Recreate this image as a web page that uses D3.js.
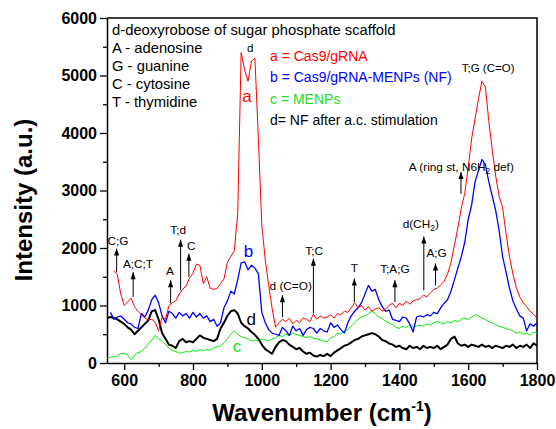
<!DOCTYPE html>
<html>
<head>
<meta charset="utf-8">
<script src="https://cdn.jsdelivr.net/npm/d3@7/dist/d3.min.js"></script>
<style>
  body { margin: 0; background: #fff; }
  svg { font-family: "Liberation Sans", Arial, sans-serif; }
</style>
</head>
<body>
<svg id="chart" width="556" height="429"></svg>
<script>
// wavenumber grid (cm-1), one reading every 10 cm-1
var wavenumbers = d3.range(550, 1801, 10);

// a = Cas9/gRNA
var seriesA = [
  null, null, 1600, 1540, 1200, 1000, 1060, 1130, 980, 900,
  840, 780, 750, 760, 710, 560, 800, 760, 1000, 1050,
  1080, 1200, 1280, 1340, 1480, 1560, 1720, 1700, 1380, 1500,
  1300, 1280, 1300, 1380, 1460, 1750, 1850, 1950, 2600, 5400,
  5100, 4900, 5250, 5300, 3900, 2400, 1800, 1350, 950, 620,
  700, 760, 720, 780, 680, 740, 700, 780, 760, 720,
  850, 760, 820, 780, 800, 840, 780, 860, 840, 900,
  880, 960, 1050, 960, 1000, 920, 980, 900, 940, 960,
  900, 940, 1000, 1040, 960, 1040, 1000, 1080, 1020, 1080,
  1100, 1120, 1180, 1150, 1220, 1280, 1300, 1360, 1420, 1550,
  1750, 2050, 2350, 2700, 2950, 3400, 3900, 4250, 4600, 4900,
  4800, 4200, 3700, 3250, 2900, 2700, 2250, 1850, 1550, 1300,
  1150, 1050, 980, 900, 850, 780
];
// b = Cas9/gRNA-MENPs (NF)
var seriesB = [
  null, 880, 760, 800, 820, 760, 700, 680, 620, 600,
  860, 800, 920, 1100, 1180, 1050, 820, 700, 900, 860,
  780, 880, 820, 860, 780, 880, 800, 860, 780, 820,
  720, 760, 640, 700, 960, 1080, 1250, 1200, 1450, 1740,
  1760, 1620, 1700, 1650, 1550, 880, 700, 580, 520, 500,
  480, 620, 560, 480, 640, 560, 600, 480, 580, 620,
  600, 520, 600, 560, 540, 700, 620, 660, 580, 520,
  700, 820, 900, 960, 1050, 1200, 1350, 1250, 1280, 1100,
  980, 900, 920, 760, 740, 720, 800, 780, 680, 540,
  800, 820, 800, 840, 820, 880, 860, 960, 1040, 1100,
  1250, 1450, 1650, 1850, 2100, 2500, 2750, 3150, 3350, 3540,
  3450, 3150, 2900, 2650, 2300, 1850, 1580, 1300, 1080, 940,
  820, 780, 560, 680, 640, 700
];
// c = MENPs
var seriesC = [
  80, 100, 110, 120, 160, 170, 140, 60, 140, 180,
  200, 260, 330, 400, 480, 420, 380, 330, 260, 220,
  200, 170, 180, 200, 190, 220, 200, 230, 210, 240,
  220, 260, 280, 300, 350, 420, 500, 560, 500, 460,
  440, 420, 380, 400, 380, 420, 400, 380, 420, 440,
  480, 460, 500, 480, 520, 500, 480, 460, 440, 460,
  430, 420, 400, 380, 370, 440, 460, 520, 500, 560,
  580, 640, 700, 760, 800, 820, 860, 900, 860, 800,
  780, 720, 700, 660, 620, 600, 640, 620, 660, 620,
  640, 660, 640, 680, 660, 700, 720, 700, 680, 720,
  700, 740, 720, 760, 780, 760, 800, 840, 820, 780,
  760, 720, 700, 660, 640, 620, 600, 580, 560, 520,
  540, 500, 520, 480, 540, 520
];
// d = NF after a.c. stimulation
var seriesD = [
  780, 800, 780, 760, 720, 680, 620, 580, 500, 560,
  620, 680, 740, 900, 920, 760, 520, 420, 320, 300,
  260, 380, 420, 360, 380, 360, 420, 480, 440, 420,
  400, 380, 420, 600, 700, 820, 900, 920, 860, 700,
  640, 600, 540, 490, 420, 320, 240, 200, 160, 280,
  360, 400, 380, 320, 280, 240, 260, 200, 160, 180,
  130, 110, 140, 120, 160, 120, 180, 220, 260, 300,
  320, 360, 400, 420, 460, 480, 500, 520, 500, 460,
  400, 380, 340, 320, 280, 300, 260, 240, 300, 260,
  280, 240, 300, 260, 280, 260, 300, 240, 280, 320,
  420, 460, 340, 300, 320, 280, 320, 300, 280, 320,
  280, 300, 260, 300, 280, 260, 300, 280, 320, 260,
  300, 280, 320, 260, 340, 300
];

var xTickLabels = [600, 800, 1000, 1200, 1400, 1600, 1800];
var xMinorTicks = [700, 900, 1100, 1300, 1500, 1700];
var yTickLabels = [0, 1000, 2000, 3000, 4000, 5000, 6000];
var yMinorTicks = [500, 1500, 2500, 3500, 4500, 5500];

// band assignments (arrow wavenumber, arrow tip/tail intensity, label spot)
var bandLabels = ["C;G", "A;C;T", "A", "T;d", "C", "d (C=O)", "T;C", "T", "T;A;G", "d(CH_2)", "A;G", "A (ring st, N6H_2 def)"];
var bandWave   = [578, 626, 735, 764, 788, 1060, 1150, 1269, 1387, 1471, 1505, 1579];
var bandTip    = [1990, 1580, 1440, 2145, 1900, 1180, 1815, 1470, 1440, 2200, 1730, 3320];
var bandTail   = [1580, 1150, 1035, 1265, 1500, 800, 860, 1060, 1060, 1265, 1350, 2940];
var bandTextW  = [582, 640, 733, 757, 795, 1084, 1152, 1269, 1387, 1462, 1508, 1580];
var bandTextI  = [2046, 1647, 1526, 2249, 1959, 1266, 1873, 1583, 1561, 2341, 1838, 3347];

// peak notes without arrows
var peakNotes  = ["d", "T;G (C=O)"];
var peakNoteW  = [966, 1658];
var peakNoteI  = [5410, 5063];

// curve letters
var curveNames = ["a", "b", "c", "d"];
var curveNameW = [957, 961, 928, 969];
var curveNameI = [4543, 1843, 191, 659];

var keyLines = ["d-deoxyrobose of sugar phosphate scaffold", "A - adenosine", "G - guanine", "C - cytosine", "T - thymidine"];
var legendLines = ["a = Cas9/gRNA", "b = Cas9/gRNA-MENPs (NF)", "c = MENPs", "d= NF after a.c. stimulation"];

var colors = ["#ff0000", "#0000ff", "#00ee00", "#000000"];
var textColors = ["#ff0000", "#0000ff", "#22dd22", "#000000"];
var widths = [1, 1.3, 1, 2];

var svg = d3.select("#chart");
var plotL = 107, plotR = 537, plotT = 18, plotB = 363;

var x = d3.scaleLinear().domain([550, 1800]).range([plotL, plotR]);
var y = d3.scaleLinear().domain([0, 6000]).range([plotB, plotT]);

// axes
var xAxis = svg.append("g").attr("transform", "translate(0," + plotB + ")")
  .call(d3.axisBottom(x).tickValues(xTickLabels).tickFormat(d3.format("d")).tickSize(7).tickSizeOuter(0).tickPadding(5));
svg.append("g").attr("transform", "translate(0," + plotB + ")")
  .call(d3.axisBottom(x).tickValues(xMinorTicks).tickSize(4).tickFormat("")).select(".domain").remove();
var yAxis = svg.append("g").attr("transform", "translate(" + plotL + ",0)")
  .call(d3.axisLeft(y).tickValues(yTickLabels).tickFormat(d3.format("d")).tickSize(7).tickSizeOuter(0).tickPadding(3));
svg.append("g").attr("transform", "translate(" + plotL + ",0)")
  .call(d3.axisLeft(y).tickValues(yMinorTicks).tickSize(4).tickFormat("")).select(".domain").remove();

svg.selectAll(".tick line").attr("stroke-width", 1.3);
svg.selectAll(".domain").attr("stroke-width", 1.5);
[xAxis, yAxis].forEach(function(a){
  a.selectAll("text").attr("font-size", 16).attr("font-weight", "bold")
    .attr("font-family", "'Liberation Sans', Arial, sans-serif").attr("fill", "#000");
});

// box top and right
svg.append("path")
  .attr("d", "M" + plotL + "," + plotT + "H" + plotR + "V" + plotB)
  .attr("fill", "none").attr("stroke", "#000").attr("stroke-width", 1.5);

// axis titles
var xt = svg.append("text").attr("x", 322).attr("y", 421).attr("text-anchor", "middle")
  .attr("font-size", 24).attr("font-weight", "bold");
xt.append("tspan").text("Wavenumber (cm");
xt.append("tspan").attr("font-size", 14).attr("dy", -10).text("-1");
xt.append("tspan").attr("dy", 10).text(")");

svg.append("text").attr("transform", "translate(32,200) rotate(-90)").attr("text-anchor", "middle")
  .attr("font-size", 24).attr("font-weight", "bold").text("Intensity (a.u.)");

// spectra
svg.append("clipPath").attr("id", "plotclip").append("rect")
  .attr("x", plotL).attr("y", plotT).attr("width", plotR - plotL).attr("height", plotB - plotT);

var line = d3.line()
  .defined(function(d){ return d[1] != null; })
  .x(function(d){ return x(d[0]); })
  .y(function(d){ return y(d[1]); });

var allSeries = [seriesA, seriesB, seriesC, seriesD];
var drawOrder = [2, 3, 1, 0];
var gLines = svg.append("g").attr("clip-path", "url(#plotclip)");
drawOrder.forEach(function(k){
  gLines.append("path")
    .datum(wavenumbers.map(function(w, i){ return [w, allSeries[k][i]]; }))
    .attr("d", line)
    .attr("fill", "none")
    .attr("stroke", colors[k])
    .attr("stroke-width", widths[k])
    .attr("stroke-linejoin", "round");
});

// arrow head
svg.append("defs").append("marker")
  .attr("id", "head").attr("markerUnits", "userSpaceOnUse")
  .attr("markerWidth", 8).attr("markerHeight", 8)
  .attr("viewBox", "-8 -4 8 8").attr("refX", 0).attr("refY", 0).attr("orient", "auto")
  .append("path").attr("d", "M0,0L-7,-2.6L-7,2.6Z").attr("fill", "#000");

// text with "_" marking a subscript character
function richText(sel, str){
  var parts = str.split(/_(.)/);
  parts.forEach(function(p, i){
    if (p === "") return;
    if (i % 2 === 1) sel.append("tspan").attr("font-size", 8.5).attr("dy", 3).text(p);
    else sel.append("tspan").attr("dy", i > 0 ? -3 : 0).text(p);
  });
}

var gBands = svg.append("g");
bandLabels.forEach(function(lab, i){
  gBands.append("line")
    .attr("x1", x(bandWave[i])).attr("x2", x(bandWave[i]))
    .attr("y1", y(bandTail[i])).attr("y2", y(bandTip[i]))
    .attr("stroke", "#000").attr("stroke-width", 1)
    .attr("marker-end", "url(#head)");
  var t = gBands.append("text")
    .attr("x", x(bandTextW[i])).attr("y", y(bandTextI[i]))
    .attr("text-anchor", "middle").attr("font-size", 11.8);
  richText(t, lab);
});

peakNotes.forEach(function(n, i){
  svg.append("text").attr("x", x(peakNoteW[i])).attr("y", y(peakNoteI[i]))
    .attr("text-anchor", "middle").attr("font-size", 11.5).text(n);
});

curveNames.forEach(function(n, i){
  svg.append("text").attr("x", x(curveNameW[i])).attr("y", y(curveNameI[i]))
    .attr("text-anchor", "middle").attr("font-size", 17).attr("fill", textColors[i])
    .text(n);
});

// key on the left
keyLines.forEach(function(k, i){
  svg.append("text").attr("x", 112).attr("y", 35 + i * 18)
    .attr("font-size", 14.8).text(k);
});

// series legend
legendLines.forEach(function(l, i){
  svg.append("text").attr("x", 270).attr("y", 61 + i * 21.3)
    .attr("font-size", 14).attr("fill", textColors[i]).text(l);
});
</script>
</body>
</html>
